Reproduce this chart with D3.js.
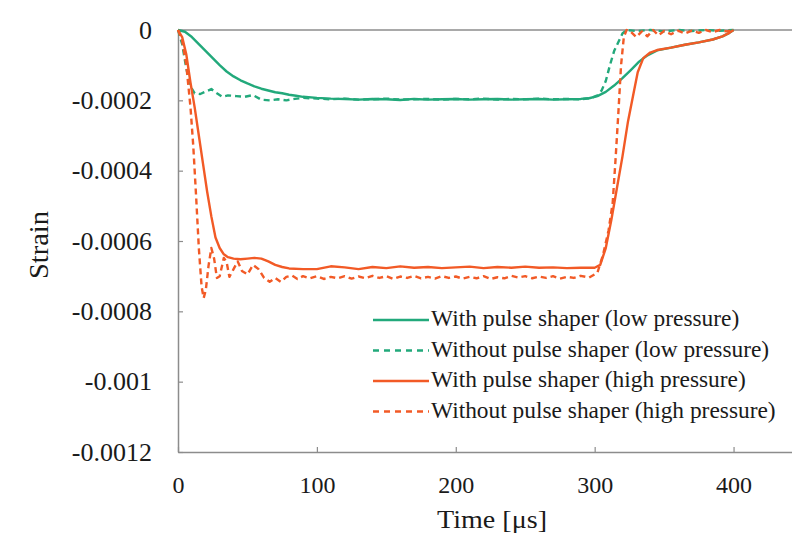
<!DOCTYPE html>
<html>
<head>
<meta charset="utf-8">
<script src="https://cdn.jsdelivr.net/npm/d3@7"></script>
</head>
<body style="margin:0">
<script>
// tick values
const xTicks = [0, 100, 200, 300, 400];
const yTicks = [0, -0.0002, -0.0004, -0.0006, -0.0008, -0.001, -0.0012];

// [time (us), strain]
const lowWith = [
  [0, 0], [5, -0.000005], [10, -0.00002], [15, -0.00004], [20, -0.00006], [25, -0.00008],
  [30, -0.0001], [35, -0.000118], [40, -0.000132], [45, -0.000143], [50, -0.000152],
  [55, -0.00016], [60, -0.000167], [65, -0.000172], [70, -0.000177], [75, -0.00018],
  [80, -0.000184], [85, -0.000187], [90, -0.00019], [100, -0.000193], [110, -0.000195],
  [120, -0.000196], [130, -0.000198], [140, -0.000196], [150, -0.000197], [160, -0.000199],
  [170, -0.000196], [180, -0.000198], [190, -0.000197], [200, -0.000196], [210, -0.000198],
  [220, -0.000197], [230, -0.000196], [240, -0.000198], [250, -0.000197], [260, -0.000196],
  [270, -0.000198], [280, -0.000197], [290, -0.000196], [296, -0.000194], [302, -0.000188],
  [308, -0.000176], [314, -0.000158], [320, -0.000137], [326, -0.000114], [332, -0.00009],
  [338, -0.000072], [345, -0.000058], [355, -0.00005], [365, -0.000042], [375, -0.000035],
  [385, -0.000027], [392, -0.000018], [397, -0.000008], [400, 0]
];

const lowWithout = [
  [0, 0], [3, -0.00004], [6, -0.00011], [9, -0.00016], [12, -0.00018], [16, -0.000182],
  [20, -0.000175], [24, -0.000168], [28, -0.00018], [32, -0.00019], [36, -0.000186],
  [42, -0.000188], [48, -0.00019], [54, -0.000185], [60, -0.000198], [66, -0.0002],
  [72, -0.000197], [78, -0.0002], [84, -0.000196], [90, -0.000193], [100, -0.000195],
  [110, -0.000197], [120, -0.000195], [130, -0.000198], [140, -0.000197], [150, -0.000195],
  [160, -0.000198], [170, -0.000197], [180, -0.000196], [190, -0.000198], [200, -0.000196],
  [210, -0.000197], [220, -0.000195], [230, -0.000198], [240, -0.000196], [250, -0.000197],
  [260, -0.000195], [270, -0.000197], [280, -0.000196], [290, -0.000197], [298, -0.000193],
  [302, -0.000186], [305, -0.000172], [308, -0.000145], [311, -0.0001], [314, -0.00006],
  [317, -0.000035], [320, -0.00001], [323, 0], [330, -0.000003], [340, 0], [350, -0.000004],
  [360, 0], [370, -0.000003], [380, 0], [390, -0.000002], [400, 0]
];

const highWith = [
  [0, 0], [3, -0.00002], [6, -0.00007], [9, -0.00015], [12, -0.00022], [15, -0.0003],
  [18, -0.00038], [21, -0.00046], [24, -0.00053], [27, -0.00059], [30, -0.00062],
  [33, -0.000638], [36, -0.000646], [40, -0.00065], [45, -0.000652], [50, -0.00065],
  [55, -0.000648], [60, -0.00065], [65, -0.000658], [70, -0.000668], [75, -0.000674],
  [80, -0.000678], [90, -0.00068], [100, -0.00068], [110, -0.000672], [120, -0.000675],
  [130, -0.00068], [140, -0.000674], [150, -0.000677], [160, -0.000672], [170, -0.000676],
  [180, -0.000674], [190, -0.000677], [200, -0.000675], [210, -0.000673], [220, -0.000677],
  [230, -0.000674], [240, -0.000676], [250, -0.000673], [260, -0.000676], [270, -0.000675],
  [280, -0.000677], [290, -0.000676], [300, -0.000676], [304, -0.000668], [308, -0.00062],
  [312, -0.00054], [316, -0.00045], [320, -0.00036], [324, -0.00026], [328, -0.00018],
  [331, -0.00012], [335, -0.00008], [340, -0.000064], [345, -0.000057], [355, -0.00005],
  [365, -0.000042], [375, -0.000035], [385, -0.000027], [392, -0.000018], [397, -0.000008],
  [400, 0]
];

const highWithout = [
  [0, 0], [3, -0.00003], [6, -0.0001], [9, -0.00022], [11, -0.00033], [13, -0.00047],
  [15, -0.00062], [17, -0.00073], [18.5, -0.000762], [20, -0.00074], [22, -0.00067],
  [24, -0.00062], [26, -0.00065], [28, -0.000705], [30, -0.0007], [33, -0.000648],
  [35, -0.00066], [37, -0.000702], [40, -0.00068], [43, -0.000658], [46, -0.000685],
  [50, -0.000695], [54, -0.000668], [58, -0.00068], [62, -0.000705], [66, -0.000716],
  [70, -0.000705], [74, -0.000716], [78, -0.000702], [82, -0.000698], [86, -0.000708],
  [90, -0.0007], [95, -0.000706], [100, -0.0007], [105, -0.000708], [110, -0.000702],
  [115, -0.000706], [120, -0.0007], [125, -0.000707], [130, -0.000701], [135, -0.000706],
  [140, -0.000699], [145, -0.000705], [150, -0.0007], [155, -0.000708], [160, -0.000701],
  [165, -0.000705], [170, -0.000699], [175, -0.000706], [180, -0.000702], [185, -0.000707],
  [190, -0.0007], [195, -0.000705], [200, -0.000701], [205, -0.000707], [210, -0.000702],
  [215, -0.000706], [220, -0.0007], [225, -0.000708], [230, -0.000703], [235, -0.000706],
  [240, -0.000699], [245, -0.000704], [250, -0.0007], [255, -0.000706], [260, -0.000701],
  [265, -0.000705], [270, -0.0007], [275, -0.000707], [280, -0.000702], [285, -0.000705],
  [290, -0.000699], [296, -0.000704], [300, -0.000695], [302, -0.00069], [306, -0.00064],
  [310, -0.00057], [313, -0.00049], [315, -0.00037], [317, -0.00024], [319, -0.0001],
  [321, -0.00002], [323, 0], [326, -0.000005], [330, -0.00002], [334, -0.000004],
  [338, -0.000018], [342, 0], [346, -0.000015], [350, -0.000003], [355, -0.000012],
  [360, -0.000002], [365, -0.00001], [370, -0.000002], [375, -0.000008], [380, 0],
  [385, -0.000006], [390, 0], [395, -0.000004], [400, 0]
];

const seriesNames = [
  "With pulse shaper (low pressure)",
  "Without pulse shaper (low pressure)",
  "With pulse shaper (high pressure)",
  "Without pulse shaper (high pressure)"
];

let width = 792;
let height = 534;
let green = "#22a97b";
let orange = "#f25a26";
let font = "'Liberation Serif'";
let textColor = "#1a1a1a";
let axisColor = "#8c8c8c";

let svg = d3.select("body")
  .append("svg")
  .attr("width", width)
  .attr("height", height)
  .style("display", "block");

// plot area runs past the right edge of the picture
let x = d3.scaleLinear().domain([0, 450]).range([178, 803]);
let y = d3.scaleLinear().domain([-0.0012, 0]).range([452, 30]);

// y axis with inward ticks
let yAxis = svg.append("g")
  .attr("transform", "translate(" + x(0) + ",0)")
  .call(d3.axisLeft(y).tickValues(yTicks).tickSizeInner(-5).tickSizeOuter(0)
    .tickFormat(d => d === 0 ? "0" : String(+d.toPrecision(2))));
yAxis.attr("font-family", null).attr("font-size", null);
yAxis.select(".domain").attr("stroke", axisColor).attr("stroke-width", 1.5);
yAxis.selectAll(".tick line").attr("stroke", axisColor).attr("stroke-width", 1.2);
yAxis.selectAll(".tick text")
  .attr("x", -26)
  .attr("fill", textColor)
  .style("font-family", font)
  .style("font-size", "26px");

// x axis with inward ticks
let xAxis = svg.append("g")
  .attr("transform", "translate(0," + y(-0.0012) + ")")
  .call(d3.axisBottom(x).tickValues(xTicks).tickSizeInner(-5).tickSizeOuter(0));
xAxis.attr("font-family", null).attr("font-size", null);
xAxis.select(".domain").attr("stroke", axisColor).attr("stroke-width", 1.5);
xAxis.selectAll(".tick line").attr("stroke", axisColor).attr("stroke-width", 1.2);
xAxis.selectAll(".tick text")
  .attr("y", 41)
  .attr("dy", null)
  .attr("fill", textColor)
  .style("font-family", font)
  .style("font-size", "24px");

// top frame line
svg.append("line")
  .attr("x1", x(0)).attr("x2", x(450))
  .attr("y1", y(0)).attr("y2", y(0))
  .attr("stroke", axisColor)
  .attr("stroke-width", 1.5);

// axis titles
svg.append("text")
  .attr("x", 492)
  .attr("y", 528)
  .attr("text-anchor", "middle")
  .attr("fill", textColor)
  .attr("textLength", 110)
  .attr("lengthAdjust", "spacingAndGlyphs")
  .style("font-family", font)
  .style("font-size", "25px")
  .text("Time [\u03bcs]");

svg.append("text")
  .attr("transform", "translate(48,245) rotate(-90)")
  .attr("text-anchor", "middle")
  .attr("fill", textColor)
  .attr("textLength", 68)
  .attr("lengthAdjust", "spacingAndGlyphs")
  .style("font-family", font)
  .style("font-size", "27px")
  .text("Strain");

let line = d3.line()
  .x(d => x(d[0]))
  .y(d => y(d[1]));

let series = [
  { data: lowWith, color: green, dash: null },
  { data: lowWithout, color: green, dash: "6,4" },
  { data: highWithout, color: orange, dash: "6,4" },
  { data: highWith, color: orange, dash: null }
];

svg.selectAll("path.series")
  .data(series)
  .enter()
  .append("path")
  .attr("class", "series")
  .attr("d", d => line(d.data))
  .attr("fill", "none")
  .attr("stroke", d => d.color)
  .attr("stroke-width", 2.4)
  .attr("stroke-dasharray", d => d.dash)
  .attr("stroke-linejoin", "round");

// legend
let legendItems = [
  { name: seriesNames[0], color: green, dash: null },
  { name: seriesNames[1], color: green, dash: "6,5" },
  { name: seriesNames[2], color: orange, dash: null },
  { name: seriesNames[3], color: orange, dash: "6,5" }
];

let rows = svg.append("g").selectAll("g")
  .data(legendItems)
  .enter()
  .append("g")
  .attr("transform", (d, i) => "translate(373," + (320 + i * 30.5) + ")");

rows.append("line")
  .attr("x1", 0).attr("x2", 56)
  .attr("stroke", d => d.color)
  .attr("stroke-width", 2.4)
  .attr("stroke-dasharray", d => d.dash);

rows.append("text")
  .attr("x", 58)
  .attr("y", 6)
  .attr("fill", textColor)
  .style("font-family", font)
  .style("font-size", "23.4px")
  .text(d => d.name);
</script>
</body>
</html>
